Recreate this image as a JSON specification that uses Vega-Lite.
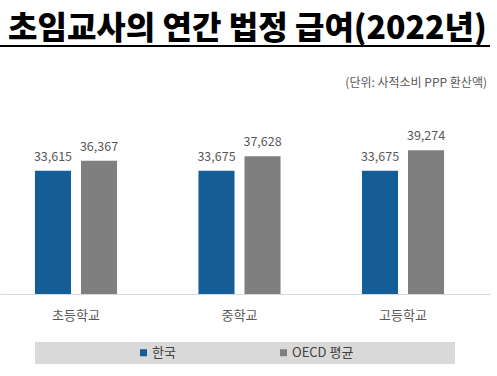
{
  "$schema": "https://vega.github.io/schema/vega-lite/v6.json",
  "autosize": "none",
  "padding": {"top": 46, "left": 0, "right": 7, "bottom": 82},
  "width": 490,
  "height": 248,
  "background": "white",
  "title": {
    "text": "초임교사의 연간 법정 급여(2022년)",
    "anchor": "start",
    "frame": "group",
    "orient": "top",
    "baseline": "alphabetic",
    "offset": 6,
    "dx": 8,
    "dy": 32,
    "font": "Noto Sans CJK KR",
    "fontSize": 32,
    "fontWeight": 900,
    "color": "#000000"
  },
  "layer": [
    {
      "data": {
        "values": [
          {"school": "초등학교", "series": "한국", "value": 33615},
          {"school": "초등학교", "series": "OECD 평균", "value": 36367},
          {"school": "중학교", "series": "한국", "value": 33675},
          {"school": "중학교", "series": "OECD 평균", "value": 37628},
          {"school": "고등학교", "series": "한국", "value": 33675},
          {"school": "고등학교", "series": "OECD 평균", "value": 39274}
        ]
      },
      "encoding": {
        "x": {
          "field": "school",
          "type": "nominal",
          "sort": ["초등학교", "중학교", "고등학교"],
          "scale": {"paddingInner": 0.498, "paddingOuter": 0.2474, "align": 0.432},
          "axis": {
            "title": null,
            "labelAngle": 0,
            "ticks": false,
            "tickSize": 0,
            "labelPadding": 15,
            "labelFont": "Noto Sans CJK KR",
            "labelFontSize": 13,
            "labelColor": "#595959",
            "domainColor": "#d9d9d9",
            "domainWidth": 1
          }
        },
        "xOffset": {
          "field": "series",
          "type": "nominal",
          "sort": ["한국", "OECD 평균"],
          "scale": {"paddingInner": 0.217, "paddingOuter": 0}
        },
        "y": {
          "field": "value",
          "type": "quantitative",
          "scale": {"domain": [0, 67700], "nice": false, "zero": true},
          "axis": null
        }
      },
      "layer": [
        {
          "mark": {"type": "bar"},
          "encoding": {
            "color": {
              "field": "series",
              "type": "nominal",
              "sort": ["한국", "OECD 평균"],
              "scale": {"domain": ["한국", "OECD 평균"], "range": ["#145d97", "#7f7f7f"]},
              "legend": {
                "title": null,
                "orient": "none",
                "direction": "horizontal",
                "legendX": 35,
                "legendY": 296,
                "fillColor": "#d9d9d9",
                "padding": 4,
                "symbolType": "square",
                "symbolSize": 49,
                "symbolStrokeWidth": 0,
                "symbolOffset": 98,
                "labelOffset": 2,
                "columnPadding": 3,
                "labelLimit": 400,
                "labelFont": "Noto Sans CJK KR",
                "labelFontSize": 13,
                "labelColor": "#404040",
                "labelExpr": "datum.label == 'OECD 평균' ? datum.label + '\u3000\u3000\u3000\u3000\u3000\u3000\u3000  \u200b' : datum.label"
              }
            }
          }
        },
        {
          "mark": {
            "type": "text",
            "baseline": "alphabetic",
            "dy": -10,
            "font": "Noto Sans CJK KR",
            "fontSize": 12.5,
            "color": "#595959"
          },
          "encoding": {
            "text": {"field": "value", "type": "quantitative", "format": ","}
          }
        }
      ]
    },
    {
      "data": {"values": [{"line": "underline"}]},
      "mark": {"type": "rule", "color": "#000000", "strokeWidth": 2},
      "encoding": {
        "y": {"datum": 67700, "type": "quantitative"}
      }
    },
    {
      "data": {"values": [{"note": "(단위: 사적소비 PPP 환산액)"}]},
      "mark": {
        "type": "text",
        "align": "right",
        "baseline": "middle",
        "dx": -3,
        "font": "Noto Sans CJK KR",
        "fontSize": 12,
        "color": "#595959"
      },
      "encoding": {
        "x": {"value": "width"},
        "y": {"datum": 57500, "type": "quantitative"},
        "text": {"field": "note", "type": "nominal"}
      }
    }
  ],
  "config": {
    "view": {"stroke": null}
  }
}
